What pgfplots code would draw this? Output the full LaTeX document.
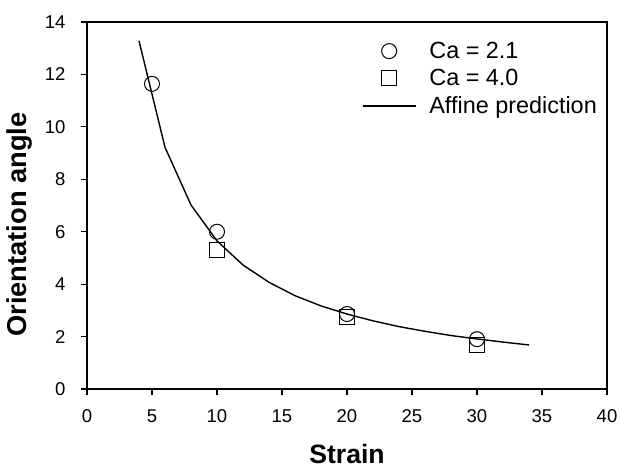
\documentclass[border=0pt]{standalone}
\usepackage{pgfplots}
\pgfplotsset{compat=1.18}
\usepackage{fontspec}
\setmainfont{Liberation Sans}
\begin{document}
\begin{tikzpicture}
\begin{axis}[
  scale only axis,
  width=520bp, height=367bp,
  xmin=0, xmax=40, ymin=0, ymax=14,
  xtick={0,5,...,40}, ytick={0,2,...,14},
  xtick pos=bottom, ytick pos=left,
  tick align=outside,
  major tick length=6bp,
  axis line style={line width=1.5bp},
  tick style={line width=1.2bp, black},
  ticklabel style={font=\fontsize{18.6}{22}\selectfont},
  /pgf/number format/assume math mode=true,
  xticklabel style={yshift=-11bp},
  yticklabel style={xshift=-12bp},
  xlabel={Strain}, ylabel={Orientation angle},
  xlabel style={font=\fontsize{26.7}{30}\selectfont\bfseries,
    at={(axis description cs:0.5,0)}, anchor=north, yshift=-52bp},
  ylabel style={font=\fontsize{27.4}{30}\selectfont\bfseries,
    at={(axis description cs:0,0.448)}, anchor=south, yshift=51bp},
  legend style={draw=none, fill=none, at={(1,1)}, anchor=north east,
    xshift=-6bp, yshift=-17bp,
    font=\fontsize{23.5}{26}\selectfont, row sep=7.5bp,
    nodes={inner sep=1bp},
    /tikz/every odd column/.append style={column sep=12bp}},
  legend cell align=left,
  legend image code/.code={\draw[mark repeat=2,mark phase=2,#1] plot coordinates {(0bp,0bp) (26.5bp,0bp) (53bp,0bp)};},
]
\addplot[only marks, mark=o, mark size=7.5bp, mark options={line width=1bp}, black]
  coordinates {(5,11.64) (10,6.0) (20,2.86) (30,1.90)};
\addlegendentry{Ca = 2.1}
\addplot[only marks, mark=square, mark size=7.5bp, mark options={line width=1bp}, black]
  coordinates {(10,5.30) (20,2.74) (30,1.66)};
\addlegendentry{Ca = 4.0}
\addplot[black, line width=1.4bp, mark=none] coordinates {
  (4,13.28) (6,9.22) (8,7.02) (10,5.65) (12,4.73) (14,4.07) (16,3.56)
  (18,3.17) (20,2.86) (22,2.60) (24,2.38) (26,2.20) (28,2.04) (30,1.91)
  (32,1.79) (34,1.68)};
\addlegendentry{Affine prediction}
\end{axis}
\pgfresetboundingbox
\path ([xshift=-87bp,yshift=-79bp]current axis.south west) rectangle ([xshift=14bp,yshift=22bp]current axis.north east);
\end{tikzpicture}
\end{document}
